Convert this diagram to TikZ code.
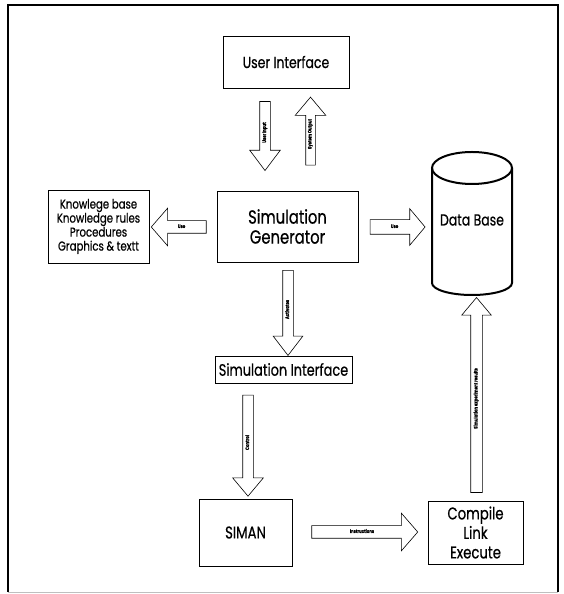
\documentclass[tikz,border=0pt]{standalone}
\usepackage{fontspec}
\setmainfont{Poppins}[FakeStretch=0.78, FakeBold=0.6]
\usetikzlibrary{shapes.arrows, calc}

\tikzset{
  box/.style={draw, line width=0.6pt, rectangle, align=center, inner sep=0pt},
  blk/.style={single arrow, draw, line width=0.6pt, single arrow head indent=0pt,
    inner xsep=1pt, text height=3pt, text depth=1pt, font=\fontsize{5}{5}\selectfont\bfseries},
}

\begin{document}
\begin{tikzpicture}[x=1pt,y=1pt]
  \useasboundingbox (0,0) rectangle (563,594);
  % frame
  \draw[line width=1.3pt] (8,2) -- (8,589) -- (558,589) -- (558,2);
  \draw[gray!50, line width=0.5pt] (8,2) -- (558,2);

  % boxes
  \node[box, minimum width=126pt, minimum height=52pt, font=\fontsize{16}{18}\selectfont] (ui) at (286,532) {User Interface};
  \node[box, minimum width=141pt, minimum height=71pt, font=\fontsize{19}{20}\selectfont] (gen) at (287.5,367.5) {Simulation\\Generator};
  \node[box, minimum width=101pt, minimum height=73pt, font=\fontsize{13}{14}\selectfont] (kb) at (98.5,367.5) {Knowlege base\\Knowledge rules\\Procedures\\Graphics \& textt};
  \node[box, minimum width=137pt, minimum height=27pt, font=\fontsize{16.5}{18}\selectfont] (si) at (283.5,224.5) {Simulation Interface};
  \node[box, minimum width=93pt, minimum height=67pt, font=\fontsize{17}{18}\selectfont] (siman) at (245.5,61.5) {SIMAN};
  \node[box, minimum width=95pt, minimum height=63pt, font=\fontsize{17}{19.5}\selectfont] (cle) at (475.5,61.5) {Compile\\Link\\Execute};

  % data base cylinder
  \draw[line width=2pt] (432,426) -- (432,311) arc[start angle=180, end angle=360, x radius=40, y radius=12] -- (512,426);
  \draw[line width=2pt] (472,426) ellipse [x radius=40, y radius=16];
  \node[font=\fontsize{16}{17}\selectfont] (db) at (472,374) {Data Base};

  % block arrows
  \node[blk, rotate=90, shape border rotate=180, minimum height=69pt, inner ysep=3pt,
    single arrow head extend=10pt, single arrow tip angle=74] (uin) at (265,461.5) {User Input};
  \node[blk, rotate=90, minimum height=68pt, inner ysep=2.5pt,
    single arrow head extend=10.5pt, single arrow tip angle=80] (sout) at (310.5,460) {System Output};
  \node[blk, shape border rotate=180, minimum height=55pt, inner ysep=4pt,
    single arrow head extend=12.5pt, single arrow tip angle=98] (usel) at (181.5,367) {Use};
  \node[blk, minimum height=55pt, inner ysep=5pt,
    single arrow head extend=11pt, single arrow tip angle=100] (user) at (394.5,367) {Use};
  \node[blk, rotate=90, shape border rotate=180, minimum height=85pt, inner ysep=3pt,
    single arrow head extend=9.5pt, single arrow tip angle=75] (act) at (288,284.5) {Activates};
  \node[blk, rotate=90, shape border rotate=180, minimum height=101pt, inner ysep=3pt,
    single arrow head extend=10pt, single arrow tip angle=80] (ctrl) at (248,151.5) {Control};
  \node[blk, minimum height=106pt, inner ysep=4pt,
    single arrow head extend=12.5pt, single arrow tip angle=98] (instr) at (362,62) {Instructions};
  \node[blk, rotate=90, minimum height=195pt, inner ysep=3.5pt,
    single arrow head extend=9pt, single arrow tip angle=80] (res) at (476.5,195.5) {Simulation experiment results};
\end{tikzpicture}
\end{document}
